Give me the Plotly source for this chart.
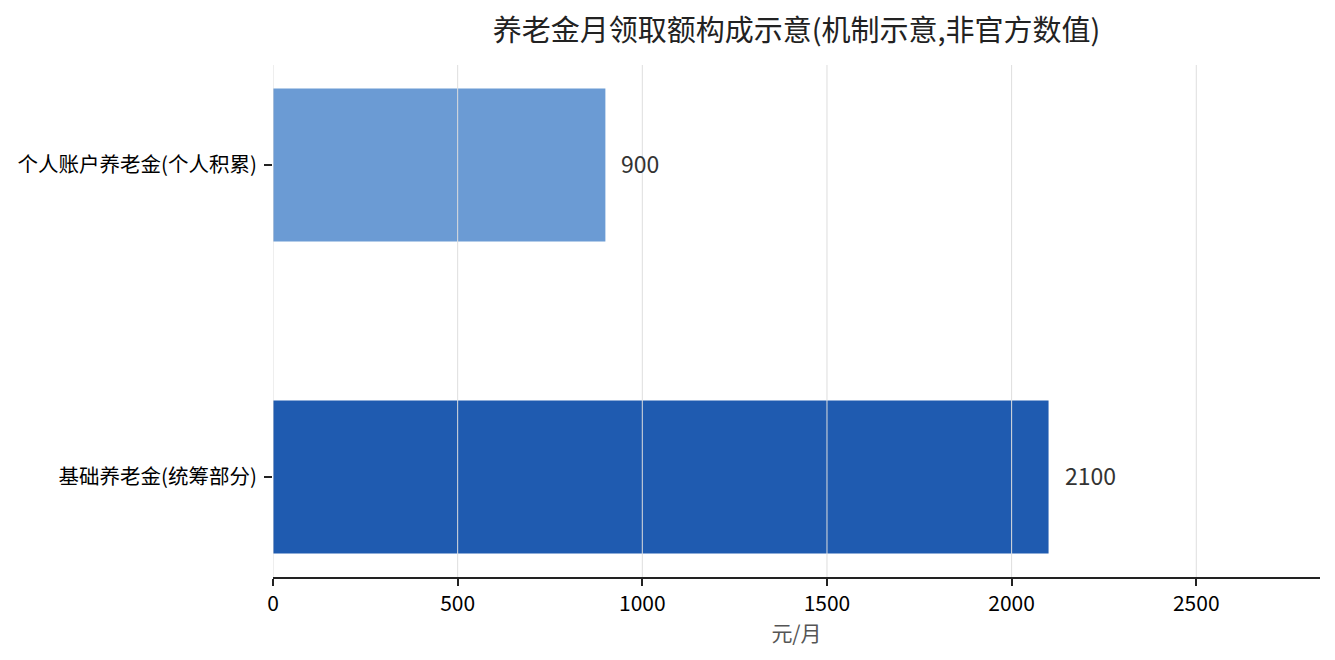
import plotly.graph_objects as go

# 数据 (机制示意)
categories = ['基础养老金(统筹部分)', '个人账户养老金(个人积累)']
values = [2100, 900]
bar_colors = ['#1f5bb0', '#6b9bd4']
x_ticks = [0, 500, 1000, 1500, 2000, 2500]

FONT = 'Noto Sans CJK SC'

fig = go.Figure()
fig.add_trace(go.Bar(
    y=categories,
    x=values,
    orientation='h',
    marker=dict(color=bar_colors, line=dict(width=0)),
    width=0.49,
    hoverinfo='x+y',
    showlegend=False,
))

# 数值标签
for cat, val in zip(categories, values):
    fig.add_annotation(
        x=val, y=cat, text=str(val),
        xanchor='left', yanchor='middle', xshift=14, yshift=2,
        showarrow=False,
        font=dict(family=FONT, size=23, color='#333333'),
    )

# 网格线画在柱子上方
for t in x_ticks:
    fig.add_shape(
        type='line', xref='x', yref='y domain',
        x0=t, x1=t, y0=0, y1=1,
        line=dict(color='#dedede', width=1),
        layer='above',
    )

fig.update_layout(
    width=1335, height=660,
    margin=dict(l=265, r=23, t=57, b=91),
    paper_bgcolor='white',
    plot_bgcolor='white',
    font=dict(family=FONT, size=21, color='black'),
    title=dict(
        text='养老金月领取额构成示意(机制示意,非官方数值)',
        x=0.5, xref='paper', xanchor='center',
        y=0.965, yref='container', yanchor='middle',
        font=dict(family=FONT, size=29, color='#222222'),
    ),
)

fig.update_xaxes(
    range=[0, 2835],
    tickvals=x_ticks,
    showgrid=False,
    layer='above traces',
    showline=True, linecolor='#222222', linewidth=2,
    ticks='outside', ticklen=7, tickcolor='#222222', tickwidth=2,
    zeroline=False,
    automargin=False,
    title=dict(text='元/月', font=dict(family=FONT, size=21, color='#555555'), standoff=8),
    tickfont=dict(family=FONT, size=21, color='black'),
)

fig.update_yaxes(
    range=[-0.32, 1.32],
    showgrid=False, showline=False, zeroline=False,
    automargin=False,
    ticks='outside', ticklen=8, tickcolor='#222222', tickwidth=1.5,
    ticklabelstandoff=3,
    tickfont=dict(family=FONT, size=20.5, color='black'),
)

fig.write_html('out.html')
